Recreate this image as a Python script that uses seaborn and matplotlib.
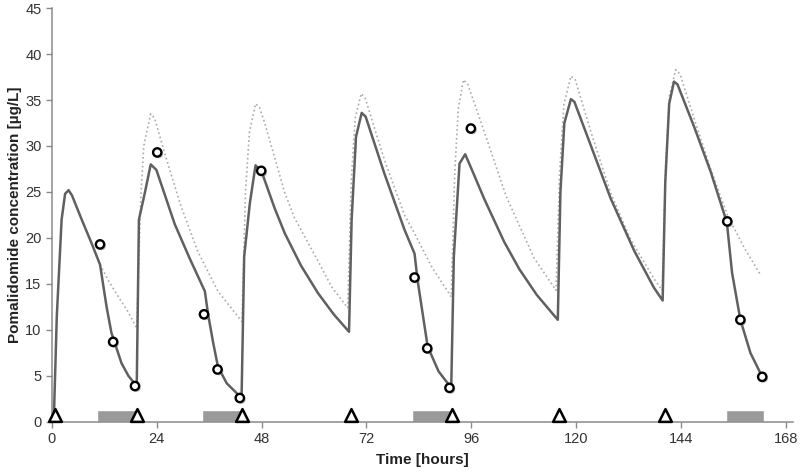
import numpy as np
import seaborn as sns
import matplotlib.pyplot as plt
import matplotlib.patheffects as pe

# predicted concentration with dialysis (solid line)
solid_t = [0, 0.4, 1.1, 2.2, 3.0, 3.8, 4.6, 6.8, 9.0, 11.0, 12.5, 13.6, 15.9, 17.5, 19.4,
           19.9, 21.3, 22.6, 23.9, 28.1, 31.5, 35.0, 35.7, 36.9, 38.0, 40.0, 43.4,
           44.0, 45.3, 46.6, 48.0, 51.0, 53.3, 57.0, 60.9, 64.5, 68.0,
           68.6, 69.6, 70.9, 71.8, 76.1, 80.7, 83.0, 83.7, 86.0, 88.5, 91.4,
           92.0, 93.3, 94.6, 96.5, 99.0, 103.5, 107.0, 111.0, 115.8,
           116.4, 117.3, 118.8, 119.6, 123.4, 127.9, 133.3, 137.8, 139.8,
           140.4, 141.3, 142.4, 143.2, 147.0, 150.8, 154.5, 155.7, 157.6, 159.9, 162.6]
solid_c = [0, 0, 11.5, 22.0, 24.8, 25.2, 24.6, 22.0, 19.5, 17.1, 12.5, 9.7, 6.4, 5.0, 3.9,
           22.0, 25.0, 28.0, 27.4, 21.5, 17.8, 14.2, 11.8, 8.6, 6.0, 4.2, 2.6,
           18.0, 23.8, 27.9, 27.2, 23.2, 20.5, 17.0, 14.0, 11.7, 9.8,
           22.0, 31.0, 33.6, 33.2, 27.0, 20.9, 18.3, 15.4, 8.2, 5.5, 3.7,
           18.0, 28.1, 29.1, 27.0, 24.2, 19.6, 16.6, 13.8, 11.1,
           25.0, 32.5, 35.1, 34.8, 30.0, 24.3, 18.6, 14.6, 13.2,
           26.0, 34.6, 37.0, 36.7, 32.1, 27.2, 21.7, 16.2, 11.1, 7.5, 4.9]

# predicted concentration without dialysis (dotted line)
dot_t = [11.0, 13.0, 15.2, 17.5, 19.4, 20.3, 21.0, 22.6, 23.5, 25.8, 29.5, 33.4, 38.0, 43.5,
         44.3, 45.2, 46.6, 47.5, 48.7, 53.3, 55.5, 60.9, 64.0, 67.7,
         68.5, 69.4, 70.8, 71.7, 76.1, 80.7, 83.0, 87.0, 91.4,
         92.2, 93.0, 94.2, 95.2, 99.0, 104.0, 110.4, 115.4,
         116.2, 117.2, 118.8, 119.8, 123.4, 127.9, 132.5, 137.8, 139.7,
         140.5, 141.4, 142.8, 143.8, 147.0, 150.8, 154.6, 158.4, 162.2]
dot_c = [17.1, 15.3, 13.6, 11.9, 10.2, 24.0, 30.0, 33.5, 33.0, 29.2, 23.5, 18.5, 14.2, 10.9,
         25.0, 31.5, 34.6, 34.2, 32.5, 24.9, 22.2, 17.5, 14.7, 12.4,
         26.0, 33.0, 35.7, 35.2, 28.5, 22.5, 20.5, 16.8, 13.6,
         27.0, 34.0, 37.2, 36.7, 31.5, 24.5, 17.8, 14.3,
         27.0, 34.5, 37.6, 37.2, 31.5, 24.9, 19.8, 15.6, 14.3,
         28.0, 35.5, 38.3, 37.8, 33.0, 27.5, 22.5, 19.0, 16.0]

# observed concentrations
obs_t = [11.0, 14.0, 19.0, 24.1, 34.8, 37.9, 43.0, 47.9, 83.0, 85.9, 91.0, 95.9, 154.6, 157.6, 162.6]
obs_c = [19.3, 8.7, 3.9, 29.3, 11.7, 5.7, 2.6, 27.3, 15.7, 8.0, 3.7, 31.9, 21.8, 11.1, 4.9]

# dosing times and dialysis sessions
dose_t = [0.7, 19.5, 43.4, 68.5, 91.6, 116.1, 140.3]
dial_start = [10.3, 34.4, 82.4, 154.2]
dial_end = [19.5, 43.4, 91.5, 163.1]

sns.set_style("ticks")
plt.rcParams['font.family'] = ['Liberation Sans', 'DejaVu Sans']

fig = plt.figure(figsize=(8, 4.73), dpi=100)
ax = fig.add_axes([0.065, 0.108, 0.926, 0.875])

ax.bar(dial_start, 1.3, width=np.array(dial_end) - np.array(dial_start),
       align='edge', color='#9a9a9a', zorder=2)

sns.lineplot(x=dot_t, y=dot_c, sort=False, estimator=None, ax=ax,
             color='#ababab', linewidth=1.2, linestyle=':', zorder=3)
sns.lineplot(x=solid_t, y=solid_c, sort=False, estimator=None, ax=ax,
             color='#606060', linewidth=1.8, zorder=4)

sns.scatterplot(x=obs_t, y=obs_c, ax=ax, s=36, facecolor='white',
                edgecolor='black', linewidth=1.7, zorder=6)
ax.collections[-1].set_path_effects([pe.SimplePatchShadow(offset=(1.2, -1.2), shadow_rgbFace='gray', alpha=0.5),
                                     pe.Normal()])

sns.scatterplot(x=dose_t, y=[0.75] * len(dose_t), ax=ax, marker='^', s=85,
                facecolor='white', edgecolor='black', linewidth=1.8, zorder=7, clip_on=False)

ax.set_xlim(0, 169.6)
ax.set_ylim(0, 45)
ax.set_xticks(range(0, 169, 24))
ax.set_yticks(range(0, 46, 5))
sns.despine(ax=ax)
for s in ['left', 'bottom']:
    ax.spines[s].set_color('#8a8a8a')
    ax.spines[s].set_linewidth(1.1)
ax.tick_params(axis='both', colors='#8a8a8a', labelcolor='#333333', labelsize=10.5, width=1.0, length=4)

ax.set_xlabel('Time [hours]', fontsize=11, fontweight='bold', color='#222222', labelpad=5)
ax.set_ylabel('Pomalidomide concentration [µg/L]', fontsize=11, fontweight='bold', color='#222222', labelpad=2)

fig.savefig('out.png', dpi=100)
